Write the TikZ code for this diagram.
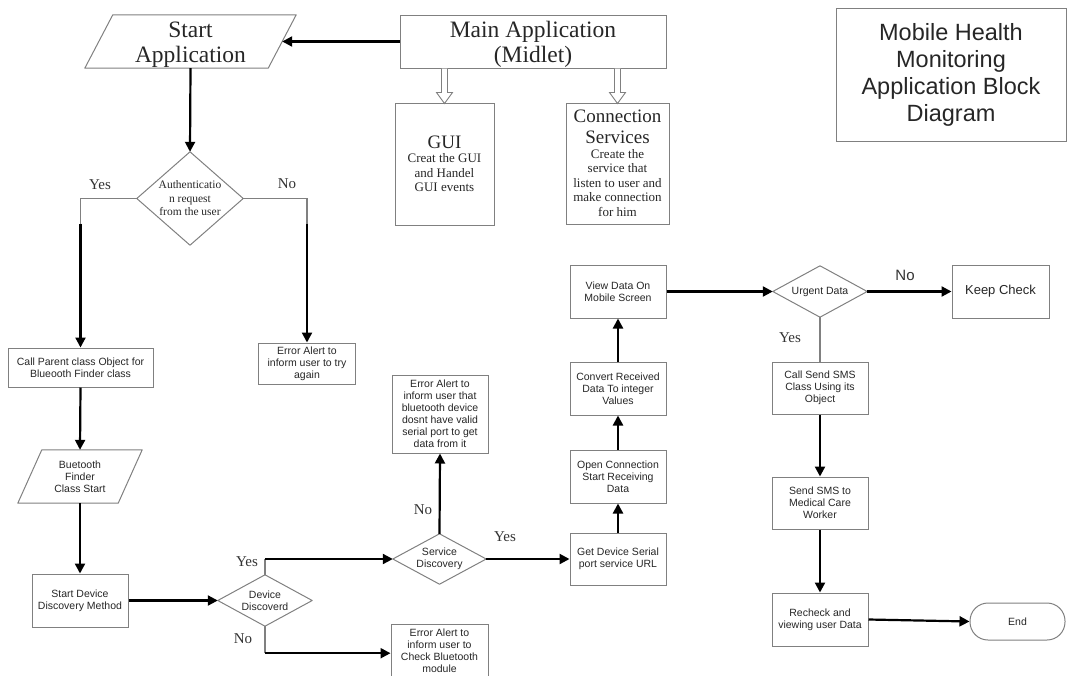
\documentclass[tikz,border=0pt]{standalone}
\usepackage{fontspec}
\setmainfont{Liberation Serif}
\newfontfamily\arialfont{Liberation Sans}
\usetikzlibrary{arrows.meta,calc}

\newcommand{\headfont}{\fontsize{19}{21}\selectfont}
\newcommand{\bodyfont}{\fontsize{13}{14.5}\selectfont}

\tikzset{
  sz/.style 2 args={minimum width=#1pt, minimum height=#2pt},
  shell/.style={inner sep=0pt, align=center, text=black!85},
  box/.style={shell, draw=gray, line width=1pt},
  smallsans/.style={font=\arialfont\fontsize{10.5}{12}\selectfont},
  bigserif/.style={font=\fontsize{23.5}{25.5}\selectfont, inner sep=0pt, align=center, text=black!85},
  outline/.style={draw=gray, line width=1pt, line join=round},
  hollow/.style={draw=gray, line width=0.9pt, fill=white, line join=miter},
  flow/.style={line width=2.2pt, draw=black, -{Triangle[length=10pt,width=10pt]}},
  branch/.style={line width=1.1pt, draw=gray},
  yn/.style={font=\fontsize{15}{15}\selectfont, text=black!80, inner sep=0pt},
  ynsans/.style={font=\arialfont\fontsize{15}{15}\selectfont, text=black!80, inner sep=0pt},
}

\begin{document}
\begin{tikzpicture}[x=1pt, y=-1pt]
\useasboundingbox (0,0) rectangle (1068,675);

% ---------- top row ----------
\node[shell, sz={183}{53}] (start) at (190.5,41.5) {};
\draw[outline] ([xshift=14pt]start.north west) -- ([xshift=14pt]start.north east)
  -- ([xshift=-14pt]start.south east) -- ([xshift=-14pt]start.south west) -- cycle;
\node[bigserif] (starttext) at ([yshift=-3pt]start.center) {Start\\Application};

\node[box, sz={266}{53}] (main) at (533,41.5) {};
\node[bigserif] (maintext) at ([yshift=-3pt]main.center) {Main Application\\(Midlet)};

\node[box, sz={99}{122}] (gui) at (444.5,164)
  {\parbox{97pt}{\centering\headfont GUI\par\bodyfont Creat the GUI\\and Handel\\GUI events}};

\node[box, sz={103}{121}] (conns) at (617.5,163.5)
  {\parbox{101pt}{\centering\headfont Connection\\Services\par\bodyfont Create the\\service that\\listen to user and\\make connection\\for him}};

\node[box, sz={230}{133}, font=\arialfont\fontsize{23.5}{27}\selectfont] (title) at (951,74.5)
  {Mobile Health\\Monitoring\\Application Block\\Diagram};

% hollow arrows from the MIDlet to its two parts
\draw[hollow] ($(main.south -| gui.north)+(-3,0)$) -- ++(0,24) -- ++(-5,0) -- ++(8,11)
  -- ++(8,-11) -- ++(-5,0) -- ++(0,-24);
\draw[hollow] ($(main.south -| conns.north)+(-3,0)$) -- ++(0,24) -- ++(-5,0) -- ++(8,11)
  -- ++(8,-11) -- ++(-5,0) -- ++(0,-24);

% ---------- authentication branch ----------
\node[shell, sz={106}{93}, font=\fontsize{11.5}{13.5}\selectfont] (auth) at (190,198.5)
  {Authenticatio\\n request\\from the user};
\draw[outline] (auth.north) -- (auth.east) -- (auth.south) -- (auth.west) -- cycle;

\node[box, smallsans, sz={145}{39}] (callparent) at (80.5,367.5)
  {Call Parent class Object for\\Blueooth Finder class};
\node[box, smallsans, sz={97}{41}] (err1) at (307,363.5)
  {Error Alert to\\inform user to try\\again};

% ---------- bluetooth discovery ----------
\node[shell, smallsans, sz={100}{53}] (bt) at (80,476.5) {Buetooth\\Finder\\Class Start};
\draw[outline] ([xshift=12pt]bt.north west) -- ([xshift=12pt]bt.north east)
  -- ([xshift=-12pt]bt.south east) -- ([xshift=-12pt]bt.south west) -- cycle;

\node[box, smallsans, sz={96}{53}] (startdev) at (80,600.5) {Start Device\\Discovery Method};

\node[shell, smallsans, sz={94}{51}] (devdisc) at (265,600.5) {Device\\Discoverd};
\draw[outline] (devdisc.north) -- (devdisc.east) -- (devdisc.south) -- (devdisc.west) -- cycle;

\node[box, smallsans, sz={97}{52}, anchor=north] (err2) at (439.5,624)
  {Error Alert to\\inform user to\\Check Bluetooth\\module};

\node[shell, smallsans, sz={93}{50}] (svc) at (439.5,559) {Service\\Discovery};
\draw[outline] (svc.north) -- (svc.east) -- (svc.south) -- (svc.west) -- cycle;

\node[box, smallsans, sz={96}{78}] (err3) at (440,414)
  {Error Alert to\\inform user that\\bluetooth device\\dosnt have valid\\serial port to get\\data from it};

% ---------- data path ----------
\node[box, smallsans, sz={96}{52}] (getdev) at (618,559) {Get Device Serial\\port service URL};
\node[box, smallsans, sz={96}{53}] (open) at (618,476.5) {Open Connection\\Start Receiving\\Data};
\node[box, smallsans, sz={96}{53}] (convert) at (618,388.5) {Convert Received\\Data To integer\\Values};
\node[box, smallsans, sz={96}{53}] (view) at (618,291.5) {View Data On\\Mobile Screen};

\node[shell, smallsans, sz={94}{51}] (urgent) at (820,291.5) {Urgent Data};
\draw[outline] (urgent.north) -- (urgent.east) -- (urgent.south) -- (urgent.west) -- cycle;

\node[box, sz={97}{53}, font=\arialfont\fontsize{13}{15}\selectfont] (keep) at (1000.5,291.5) {Keep Check};

\node[box, smallsans, sz={96}{52}] (callsms) at (820,388) {Call Send SMS\\Class Using its\\Object};
\node[box, smallsans, sz={96}{52}] (sendsms) at (820,503) {Send SMS to\\Medical Care\\Worker};
\node[box, smallsans, sz={96}{53}] (recheck) at (820,619.5) {Recheck and\\viewing user Data};
\node[shell, smallsans, draw=gray, line width=1pt, sz={95}{37}, rounded corners=18pt] (end) at (1017.5,621.5) {End};

% ---------- connectors ----------
\draw[flow] (main.west) -- (start.east);
\draw[flow] (start.south) -- (auth.north);

\coordinate (authyes) at ($(callparent.north |- auth.west)+(0,25)$);
\draw[branch] (auth.west) -- (callparent.north |- auth.west) -- (authyes);
\draw[flow] (authyes) -- (callparent.north);
\coordinate (authno) at ($(err1.north |- auth.east)+(0,25)$);
\draw[branch] (auth.east) -- (err1.north |- auth.east) -- (authno);
\draw[flow] (authno) -- (err1.north);
\node[yn] (authyeslbl) at (100,185) {Yes};
\node[yn] (authnolbl) at (287,184) {No};

\draw[flow] (callparent.south) -- (bt.north);
\draw[flow] (bt.south) -- (startdev.north);
\draw[flow] (startdev.east) -- (devdisc.west);

\coordinate (devyes) at (devdisc.north |- svc.west);
\draw[branch] (devdisc.north) -- (devyes);
\draw[flow] (devyes) -- (svc.west);
\coordinate (devno) at ($(devdisc.south)+(0,27)$);
\draw[branch] (devdisc.south) -- (devno);
\draw[flow] (devno) -- (devno -| err2.west);
\node[yn] (devyeslbl) at (247,562) {Yes};
\node[yn] (devnolbl) at (243,639) {No};

\draw[flow] (svc.north) -- (err3.south);
\draw[flow] (svc.east) -- (getdev.west);
\node[yn] (svcnolbl) at (423,510) {No};
\node[yn] (svcyeslbl) at (505,537) {Yes};

\draw[flow] (getdev.north) -- (open.south);
\draw[flow] (open.north) -- (convert.south);
\draw[flow] (convert.north) -- (view.south);
\draw[flow] (view.east) -- (urgent.west);
\draw[flow] (urgent.east) -- (keep.west);
\node[ynsans] (urgnolbl) at (905,275) {No};
\draw[branch] (urgent.south) -- (callsms.north);
\node[yn] (urgyeslbl) at (790,338) {Yes};

\draw[flow] (callsms.south) -- (sendsms.north);
\draw[flow] (sendsms.south) -- (recheck.north);
\draw[flow] (recheck.east) -- (end.west);
\end{tikzpicture}
\end{document}
